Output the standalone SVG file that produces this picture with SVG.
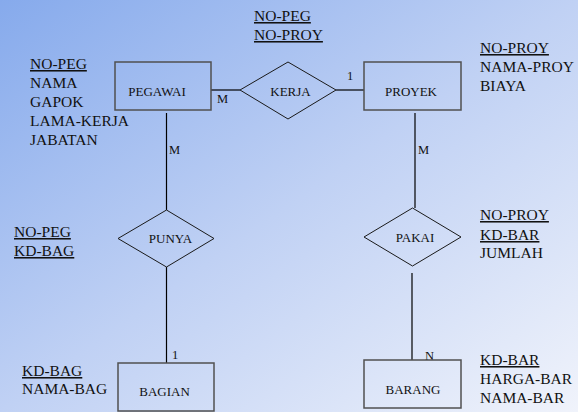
<svg xmlns="http://www.w3.org/2000/svg" width="578" height="412" viewBox="0 0 578 412" font-family="'Liberation Serif', 'Times New Roman', Times, serif">
<defs>
<linearGradient id="bg" x1="0" y1="0" x2="1" y2="1">
<stop offset="0" stop-color="#86aaec"/>
<stop offset="0.5" stop-color="#c0d1f4"/>
<stop offset="1" stop-color="#f0f3fb"/>
</linearGradient>
<style>
.ent{fill:none;stroke:#505050;stroke-width:1.5}
.rel{fill:none;stroke:#1a1a1a;stroke-width:1}
.ln{stroke:#000;stroke-width:1.2;fill:none}
.t{font-family:'Liberation Serif', 'Times New Roman', Times, serif;fill:#111}
.attr{font-size:15.5px}
.lbl{font-size:13px;text-anchor:middle}
.card{font-size:12.5px}
.u{text-decoration:underline}
</style>
</defs>
<rect x="0" y="0" width="578" height="412" fill="url(#bg)"/>
<g id="connectors">
<line class="ln" x1="211" y1="90" x2="240" y2="90"/>
<line class="ln" x1="336" y1="90" x2="364" y2="90"/>
<line class="ln" x1="166.5" y1="113" x2="166.5" y2="210"/>
<line class="ln" x1="166.5" y1="267" x2="166.5" y2="363"/>
<line class="ln" x1="415" y1="113" x2="415" y2="208"/>
<line class="ln" x1="412" y1="273" x2="412" y2="360"/>
<text class="t card" x="217" y="103">M</text>
<text class="t card" x="347" y="80">1</text>
<text class="t card" x="169" y="154">M</text>
<text class="t card" x="418" y="154">M</text>
<text class="t card" x="172" y="359">1</text>
<text class="t card" x="425" y="360">N</text>
</g>
<g id="pegawai">
<rect class="ent" x="115" y="62" width="96" height="48"/>
<text class="t lbl" x="157" y="96">PEGAWAI</text>
<text class="t attr u" x="30" y="69">NO-PEG</text>
<text class="t attr" x="30" y="88">NAMA</text>
<text class="t attr" x="30" y="107">GAPOK</text>
<text class="t attr" x="30" y="126">LAMA-KERJA</text>
<text class="t attr" x="30" y="145">JABATAN</text>
</g>
<g id="kerja">
<polygon class="rel" points="240,90 288,62 336,90 288,119"/>
<text class="t lbl" x="290.5" y="96">KERJA</text>
<text class="t attr u" x="254" y="21">NO-PEG</text>
<text class="t attr u" x="254" y="40">NO-PROY</text>
</g>
<g id="proyek">
<rect class="ent" x="364" y="62" width="97" height="48"/>
<text class="t lbl" x="411" y="96">PROYEK</text>
<text class="t attr u" x="480" y="53">NO-PROY</text>
<text class="t attr" x="480" y="72">NAMA-PROY</text>
<text class="t attr" x="480" y="91">BIAYA</text>
</g>
<g id="punya">
<polygon class="rel" points="118,238.5 166.5,210 214,238.5 166.5,267"/>
<text class="t lbl" x="170.5" y="243">PUNYA</text>
<text class="t attr u" x="14" y="237">NO-PEG</text>
<text class="t attr u" x="14" y="256">KD-BAG</text>
</g>
<g id="pakai">
<polygon class="rel" points="364,237 412.5,208 461,237 412.5,266"/>
<text class="t lbl" x="415" y="242">PAKAI</text>
<text class="t attr u" x="480" y="220">NO-PROY</text>
<text class="t attr u" x="480" y="240">KD-BAR</text>
<text class="t attr" x="480" y="258">JUMLAH</text>
</g>
<g id="bagian">
<rect class="ent" x="118" y="363" width="96" height="48"/>
<text class="t lbl" x="164.5" y="396">BAGIAN</text>
<text class="t attr u" x="22" y="376">KD-BAG</text>
<text class="t attr" x="22" y="394">NAMA-BAG</text>
</g>
<g id="barang">
<rect class="ent" x="364" y="360" width="97" height="48"/>
<text class="t lbl" x="413" y="394">BARANG</text>
<text class="t attr u" x="480" y="365">KD-BAR</text>
<text class="t attr" x="480" y="384">HARGA-BAR</text>
<text class="t attr" x="480" y="403">NAMA-BAR</text>
</g>
</svg>
